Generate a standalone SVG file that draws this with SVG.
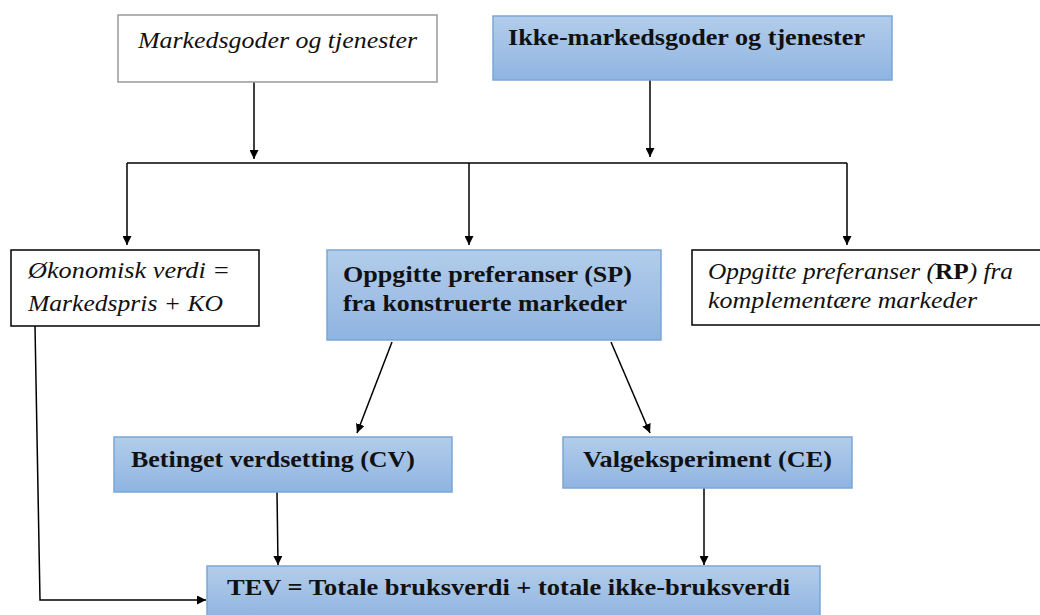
<svg xmlns="http://www.w3.org/2000/svg" width="1040" height="615" viewBox="0 0 1040 615">
<defs>
<linearGradient id="blue" x1="0" y1="0" x2="0" y2="1">
<stop offset="0" stop-color="#b3cdea"/>
<stop offset="1" stop-color="#8fb4e1"/>
</linearGradient>
<marker id="arr" viewBox="0 0 10 10" refX="10" refY="5" markerWidth="9" markerHeight="9" markerUnits="userSpaceOnUse" orient="auto">
<path d="M0,0 L10,5 L0,10 z" fill="#000"/>
</marker>
</defs>
<style>
.w{fill:#fff;stroke:#000;stroke-width:1.5}
.wg{fill:#fff;stroke:#999;stroke-width:1.5}
.b{fill:url(#blue);stroke:#7aa6d8;stroke-width:1.5}
.it{font-family:"Liberation Serif",serif;font-style:italic;font-size:23px;fill:#111}
.bd{font-family:"Liberation Serif",serif;font-weight:bold;font-size:23.5px;fill:#111}
.c{fill:none;stroke:#000;stroke-width:1.5}
</style>
<g id="connectors">
<path class="c" d="M254,82 V159" marker-end="url(#arr)"/>
<path class="c" d="M650,80 V157" marker-end="url(#arr)"/>
<path class="c" d="M127,163 H847"/>
<path class="c" d="M127,163 V245" marker-end="url(#arr)"/>
<path class="c" d="M469,163 V245" marker-end="url(#arr)"/>
<path class="c" d="M847,163 V245" marker-end="url(#arr)"/>
<path class="c" d="M392,342 L357,433" marker-end="url(#arr)"/>
<path class="c" d="M611,342 L650,433" marker-end="url(#arr)"/>
<path class="c" d="M277,492 L278,565" marker-end="url(#arr)"/>
<path class="c" d="M704,488 V565" marker-end="url(#arr)"/>
<path class="c" d="M35,326 L40,600 L206,600" marker-end="url(#arr)"/>
</g>
<g id="n1"><rect class="wg" x="118" y="15" width="319" height="67"/><text class="it" x="138" y="48" textLength="279" lengthAdjust="spacingAndGlyphs">Markedsgoder og tjenester</text></g>
<g id="n2"><rect class="b" x="493" y="16" width="399" height="64"/><text class="bd" x="508" y="45" textLength="357" lengthAdjust="spacingAndGlyphs">Ikke-markedsgoder og tjenester</text></g>
<g id="n3"><rect class="w" x="11" y="250" width="248" height="76"/><text class="it" x="28" y="278" textLength="202" lengthAdjust="spacingAndGlyphs">Økonomisk verdi =</text><text class="it" x="28" y="311" textLength="195" lengthAdjust="spacingAndGlyphs">Markedspris + KO</text></g>
<g id="n4"><rect class="b" x="327" y="250" width="334" height="90"/><text class="bd" x="343" y="282" textLength="289" lengthAdjust="spacingAndGlyphs">Oppgitte preferanser (SP)</text><text class="bd" x="343" y="311" textLength="284" lengthAdjust="spacingAndGlyphs">fra konstruerte markeder</text></g>
<g id="n5"><rect class="w" x="692" y="250" width="352" height="75"/><text class="it" x="708" y="279" textLength="305" lengthAdjust="spacingAndGlyphs">Oppgitte preferanser (<tspan font-weight="bold" font-style="normal">RP</tspan>) fra</text><text class="it" x="708" y="308" textLength="269" lengthAdjust="spacingAndGlyphs">komplementære markeder</text></g>
<g id="n6"><rect class="b" x="114" y="437" width="338" height="55"/><text class="bd" x="131" y="467" textLength="284" lengthAdjust="spacingAndGlyphs">Betinget verdsetting (CV)</text></g>
<g id="n7"><rect class="b" x="563" y="437" width="289" height="51"/><text class="bd" x="583" y="467" textLength="249" lengthAdjust="spacingAndGlyphs">Valgeksperiment (CE)</text></g>
<g id="n8"><rect class="b" x="207" y="566" width="613" height="53"/><text class="bd" x="227" y="595" textLength="563" lengthAdjust="spacingAndGlyphs">TEV = Totale bruksverdi + totale ikke-bruksverdi</text></g>
</svg>
